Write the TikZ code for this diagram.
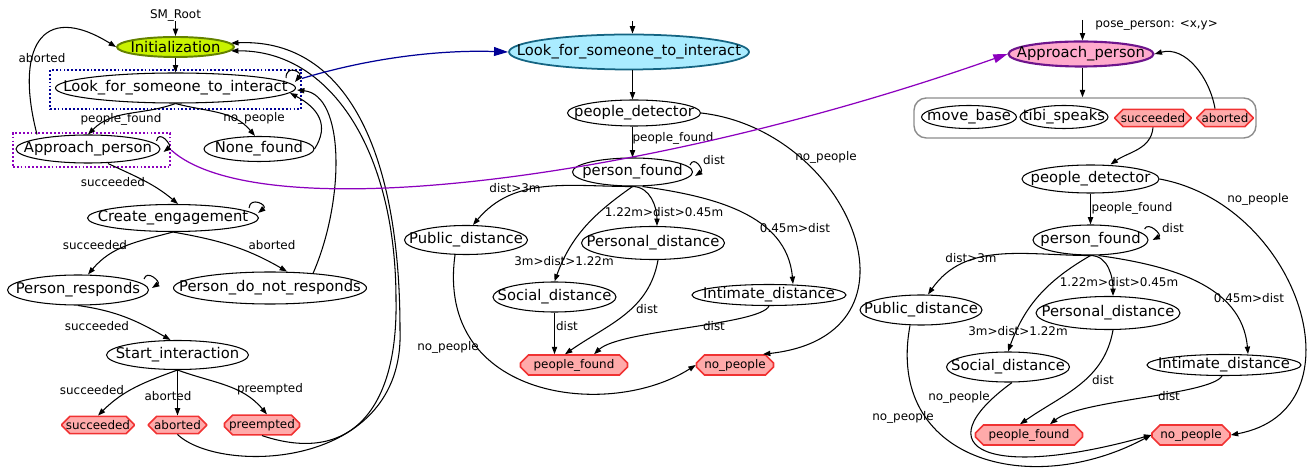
\documentclass[tikz,border=0pt]{standalone}
\usepackage{fontspec}
\setmainfont{DejaVu Sans}
\usepackage{tikz}
\usetikzlibrary{arrows.meta,shapes.misc,shapes.geometric}

\definecolor{initfill}{RGB}{200,242,0}
\definecolor{initline}{RGB}{100,130,0}
\definecolor{lookfill}{RGB}{170,236,255}
\definecolor{lookline}{RGB}{20,100,130}
\definecolor{apfill}{RGB}{255,170,204}
\definecolor{apline}{RGB}{110,20,140}
\definecolor{outfill}{RGB}{255,170,170}
\definecolor{outline}{RGB}{240,50,50}
\definecolor{navylink}{RGB}{0,0,150}
\definecolor{violetlink}{RGB}{140,0,190}

\tikzset{state/.style 2 args={ellipse, draw, line width=0.6pt, inner sep=-60pt, minimum width=#1*0.02cm, minimum height=#2*0.02cm, font=\fontsize{8.4}{10}\selectfont}}
\tikzset{outcome/.style 2 args={chamfered rectangle, chamfered rectangle xsep=2.3pt, chamfered rectangle ysep=2.3pt, draw=outline, fill=outfill, line width=0.9pt, inner sep=0pt, minimum width=#1*0.02cm, minimum height=#2*0.02cm, font=\fontsize{6.8}{8}\selectfont}}
\tikzset{cluster/.style 2 args={rectangle, draw, line width=1.2pt, dash pattern=on 1pt off 1.2pt, inner sep=0pt, minimum width=#1*0.02cm, minimum height=#2*0.02cm}}
\tikzset{lbl/.style={inner sep=0pt, font=\fontsize{6.8}{8}\selectfont}}
\tikzset{trans/.style={->, line width=0.6pt}}

\begin{document}
\begin{tikzpicture}[x=0.02cm, y=-0.02cm, >={Triangle[length=4.2pt,width=3pt]}]
\useasboundingbox (0,0) rectangle (1310,472);

% left: SM_Root
\node[lbl] (root) at (175.5,15) {SM\_Root};
\node[state={117}{20}, fill=initfill, draw=initline, line width=1.1pt] (init) at (175.5,47) {Initialization};
\node[cluster={251}{39}, draw=navylink] (lkbox) at (175.5,89.5) {};
\node[state={240}{30}] (look) at (175.5,88) {Look\_for\_someone\_to\_interact};
\node[cluster={157}{34}, draw=violetlink] (apbox) at (91.5,150) {};
\node[state={144}{28}] (appr) at (88,149) {Approach\_person};
\node[state={110}{25}] (none) at (259,149) {None\_found};
\node[state={171}{27}] (create) at (173,218) {Create\_engagement};
\node[state={141}{30}] (presp) at (78,290) {Person\_responds};
\node[state={193}{32}] (pnresp) at (270,288) {Person\_do\_not\_responds};
\node[state={142}{29}] (start) at (177.5,355) {Start\_interaction};
\node[outcome={72}{17}] (osucc) at (98,425) {succeeded};
\node[outcome={58}{17}] (oabort) at (177.5,425) {aborted};
\node[outcome={75}{17}] (opre) at (262,425) {preempted};

\draw[trans] (root) -- (init);
\draw[trans] (init) -- (look.north);
\draw[trans] ([shift={(-10,-10)}]look.east) .. controls +(0,-14) and +(8,-10) .. ([shift={(-1,-6)}]look.east);
\draw[trans] (look.south) to[out=200,in=45] (appr.north);
\draw[trans] (look.south) to[out=-15,in=130] ([shift={(-4,0)}]none.north);
\draw[trans] (none.east) .. controls (330,125) and (318,108) .. ([shift={(-6,5)}]look.east);
\draw[trans] ([shift={(43,2)}]pnresp.north) .. controls (345,200) and (345,95) .. ([shift={(1,2)}]look.east);
\draw[trans] ([shift={(-51,0)}]appr.north) .. controls (15,50) and (40,0) .. (init.west);
\draw[trans] ([shift={(-4,-8)}]appr.east) .. controls +(2,-12) and +(9,-7) .. ([shift={(3,3)}]appr.east);
\draw[trans] ([shift={(20,0)}]appr.south) to[out=-25,in=140] ([shift={(5,0)}]create.north);
\draw[trans] ([shift={(-10,-10)}]create.east) .. controls +(1,-12) and +(10,-8) .. ([shift={(-1,-5)}]create.east);
\draw[trans] (create.south) to[out=195,in=50] ([shift={(10,0)}]presp.north);
\draw[trans] (create.south) to[out=-10,in=150] ([shift={(17,0)}]pnresp.north);
\draw[trans] ([shift={(-5,-11)}]presp.east) .. controls +(3,-10) and +(9,-6) .. ([shift={(3,-2)}]presp.east);
\draw[trans] (presp.south) to[out=-8,in=150] ([shift={(-7,0)}]start.north);
\draw[trans] (start.south) to[out=200,in=45] (osucc.north);
\draw[trans] (start.south) -- (oabort.north);
\draw[trans] (start.south) to[out=-20,in=130] ([shift={(5,0)}]opre.north);
\draw[trans] (opre.south) .. controls (350,465) and (398,410) .. (396,300) .. controls (396,150) and (330,50) .. (init.-4);
\draw[trans] (oabort.south) .. controls (220,475) and (405,470) .. (400,330) .. controls (400,140) and (340,38) .. (init.4);

\node[lbl] (l-ab) at (42,58) {aborted};
\node[lbl] (l-pf) at (121,119) {people\_found};
\node[lbl] (l-np) at (254,118) {no\_people};
\node[lbl] (l-su1) at (113,182) {succeeded};
\node[lbl] (l-su2) at (95,245) {succeeded};
\node[lbl] (l-ab2) at (272,245) {aborted};
\node[lbl] (l-su3) at (97,326) {succeeded};
\node[lbl] (l-su4) at (92,390) {succeeded};
\node[lbl] (l-ab3) at (168,396) {aborted};
\node[lbl] (l-pre) at (270,389) {preempted};

% middle: Look_for_someone_to_interact
\coordinate (lookin2) at (632.5,21);
\node[state={240}{35}, fill=lookfill, draw=lookline, line width=1pt] (look2) at (629,52) {Look\_for\_someone\_to\_interact};
\node[state={133}{26}] (pd2) at (634,113) {people\_detector};
\node[state={120}{28}] (pf2) at (632.5,172) {person\_found};
\node[state={123}{29}] (pub2) at (466,240) {Public\_distance};
\node[state={143}{33}] (pers2) at (653,243) {Personal\_distance};
\node[state={123}{30}] (soc2) at (554.5,297) {Social\_distance};
\node[state={154}{21}] (int2) at (769,295) {Intimate\_distance};
\node[outcome={107}{16}] (pfo2) at (574,365) {people\_found};
\node[outcome={77}{16}] (npo2) at (735,365) {no\_people};

\draw[trans] (lookin2) -- (lookin2 |- look2.north);
\draw[trans] (lookin2 |- look2.south) -- (lookin2 |- pd2.north);
\draw[trans] (pf2.north |- pd2.south) -- (pf2.north);
\draw[trans] ([shift={(-3,-7)}]pf2.east) .. controls +(4,-10) and +(9,-6) .. ([shift={(2,4)}]pf2.east);
\draw[trans] (pf2.south) to[out=180,in=50] ([shift={(7,0)}]pub2.north);
\draw[trans] (pf2.south) to[out=0,in=90] ([shift={(4,0)}]pers2.north);
\draw[trans] (pf2.south) to[out=215,in=70] (soc2.north);
\draw[trans] ([shift={(10,0)}]pf2.south) to[out=-8,in=95] ([shift={(24,0)}]int2.north);
\draw[trans] (pd2.east) .. controls (850,130) and (935,335) .. ([shift={(28,0)}]npo2.north);
\draw[trans] (soc2.south) -- (soc2.south |- pfo2.north);
\draw[trans] ([shift={(5,0)}]pers2.south) to[out=-100,in=35] ([shift={(-9,0)}]pfo2.north);
\draw[trans] (int2.south) .. controls (760,325) and (620,330) .. ([shift={(20,0)}]pfo2.north);
\draw[trans] ([shift={(-11,0)}]pub2.south) .. controls (435,400) and (610,420) .. (npo2.west);

\node[lbl] (m-pf) at (673,138) {people\_found};
\node[lbl] (m-dist) at (714,160) {dist};
\node[lbl] (m-np) at (826,157) {no\_people};
\node[lbl] (m-pub) at (515,188) {dist>3m};
\node[lbl] (m-pers) at (664,212) {1.22m>dist>0.45m};
\node[lbl] (m-int) at (795,228) {0.45m>dist};
\node[lbl] (m-soc) at (564,261) {3m>dist>1.22m};
\node[lbl] (m-d1) at (647,309) {dist};
\node[lbl] (m-d2) at (567,326) {dist};
\node[lbl] (m-d3) at (714,326) {dist};
\node[lbl] (m-np2) at (448,347) {no\_people};

% right: Approach_person
\coordinate (apin3) at (1082.5,20);
\node[lbl, anchor=west] (pose) at (1095,25) {pose\_person: <x,y>};
\node[state={145}{25}, fill=apfill, draw=apline, line width=1.2pt] (ap3) at (1081,54) {Approach\_person};
\node[rectangle, rounded corners=7pt, draw=black!45, line width=0.8pt, minimum width=342*0.02cm, minimum height=40*0.02cm] (grp) at (1085,118) {};
\node[state={95}{23}] (mb3) at (969,117) {move\_base};
\node[state={88}{23}] (ts3) at (1064,117) {tibi\_speaks};
\node[outcome={76}{15}] (su3) at (1153,118) {succeeded};
\node[outcome={56}{15}] (ab3) at (1225,118) {aborted};
\node[state={137}{28}] (pd3) at (1090.5,179) {people\_detector};
\node[state={115}{30}] (pf3) at (1090.5,240) {person\_found};
\node[state={122}{30}] (pub3) at (921,310) {Public\_distance};
\node[state={144}{33}] (pers3) at (1108,313) {Personal\_distance};
\node[state={123}{30}] (soc3) at (1008,367) {Social\_distance};
\node[state={154}{21}] (int3) at (1224,365) {Intimate\_distance};
\node[outcome={107}{15}] (pfo3) at (1029,435) {people\_found};
\node[outcome={78}{15}] (npo3) at (1191,435) {no\_people};

\draw[trans] (apin3) -- (apin3 |- ap3.north);
\draw[trans] (apin3 |- ap3.south) -- (apin3 |- grp.north);
\draw[trans] ([shift={(-10,0)}]ab3.north) to[out=100,in=15] (ap3.east);
\draw[trans] (su3.south) to[out=-95,in=35] ([shift={(20,0)}]pd3.north);
\draw[trans] (pd3.south) -- (pf3.north);
\draw[trans] ([shift={(-4,-11)}]pf3.east) .. controls +(4,-8) and +(10,-5) .. ([shift={(4,0)}]pf3.east);
\draw[trans] (pf3.south) to[out=180,in=55] ([shift={(7,0)}]pub3.north);
\draw[trans] (pf3.south) to[out=0,in=90] ([shift={(5,0)}]pers3.north);
\draw[trans] (pf3.south) to[out=210,in=70] (soc3.north);
\draw[trans] ([shift={(8,0)}]pf3.south) to[out=-8,in=95] ([shift={(24,0)}]int3.north);
\draw[trans] (pd3.east) .. controls (1300,205) and (1365,410) .. (npo3.east);
\draw[trans] ([shift={(5,0)}]pers3.south) to[out=-100,in=35] ([shift={(-9,0)}]pfo3.north);
\draw[trans] ([shift={(-2,0)}]int3.south) .. controls (1210,395) and (1080,400) .. ([shift={(21,0)}]pfo3.north);
\draw[trans] ([shift={(4,0)}]soc3.south) .. controls (920,450) and (990,480) .. (npo3.west);
\draw[trans] ([shift={(-11,0)}]pub3.south) .. controls (885,460) and (1030,500) .. (npo3.west);

\node[lbl] (r-pf) at (1132,208) {people\_found};
\node[lbl] (r-dist) at (1173,228) {dist};
\node[lbl] (r-np) at (1258,199) {no\_people};
\node[lbl] (r-pub) at (971,258) {dist>3m};
\node[lbl] (r-pers) at (1119,282) {1.22m>dist>0.45m};
\node[lbl] (r-int) at (1249,298) {0.45m>dist};
\node[lbl] (r-soc) at (1018,331) {3m>dist>1.22m};
\node[lbl] (r-d1) at (1103,380) {dist};
\node[lbl] (r-d2) at (1169,396) {dist};
\node[lbl] (r-np2) at (959,397) {no\_people};
\node[lbl] (r-np3) at (903,417) {no\_people};

% links between the machines
\draw[navylink, line width=0.7pt, -{Triangle[length=8pt,width=5pt]}] (lkbox.5) .. controls (380,55) and (450,50) .. (look2.west);
\draw[violetlink, line width=0.7pt, -{Triangle[length=8pt,width=5pt]}] (apbox.east) .. controls (260,230) and (650,180) .. (ap3.west);
\end{tikzpicture}
\end{document}
